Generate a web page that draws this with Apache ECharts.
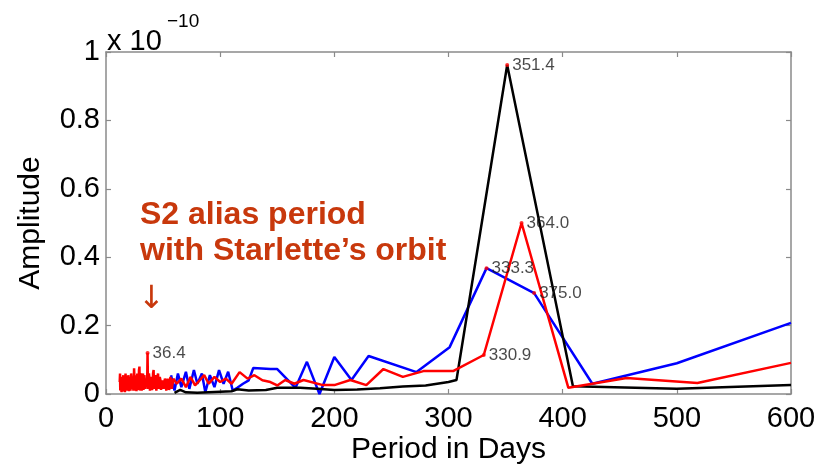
<!DOCTYPE html>
<html>
<head>
<meta charset="utf-8">
<script src="https://cdn.jsdelivr.net/npm/echarts@6/dist/echarts.min.js"></script>
<style>
  html, body { margin: 0; padding: 0; background: #fff; }
  #main { width: 835px; height: 465px; }
</style>
</head>
<body>
<div id="main"></div>
<script>
// DATA (amplitude in units of 1e-10, period in days)
var xTicks = [0, 100, 200, 300, 400, 500, 600];
var yTicks = [0, 0.2, 0.4, 0.6, 0.8, 1];

var blackData = [
  [60, 0.003], [65, 0.012], [70, 0.005], [80, 0.004], [95, 0.006], [110, 0.008],
  [115, 0.014], [125, 0.01], [140, 0.012], [150, 0.018], [170, 0.018], [185, 0.015],
  [200, 0.012], [220, 0.013], [240, 0.017], [260, 0.022], [280, 0.025], [300, 0.035],
  [307, 0.041], [351.4, 0.962], [409, 0.023], [500, 0.015], [600, 0.026]
];

var blueData = [
  [57, 0.055], [60, 0.01], [63, 0.06], [66, 0.02], [70, 0.065], [73, 0.015],
  [77, 0.07], [80, 0.03], [84, 0.06], [87, 0.005], [91, 0.055], [95, 0.02],
  [99, 0.07], [103, 0.03], [107, 0.065], [111, 0.01], [115, 0.018], [120, 0.03],
  [125, 0.04], [129, 0.076], [144, 0.073], [150, 0.073], [166, 0.018], [176, 0.094],
  [187, 0.0], [200, 0.108], [215, 0.041], [230, 0.111], [272, 0.064], [301, 0.137],
  [333.3, 0.368], [375, 0.295], [426, 0.03], [500, 0.09], [600, 0.208]
];

var redData = [
  [12.0, 0.035], [12.3, 0.06], [12.5, 0.01], [12.8, 0.04], [13.0, 0.045], [13.3, 0.02],
  [13.6, 0.005], [13.9, 0.05], [14.1, 0.04], [14.4, 0.008], [14.6, 0.015], [14.9, 0.045],
  [15.2, 0.055], [15.5, 0.02], [15.7, 0.01], [16.0, 0.05], [16.3, 0.035], [16.6, 0.005],
  [16.8, 0.02], [17.1, 0.06], [17.4, 0.045], [17.7, 0.01], [18.0, 0.005], [18.3, 0.04],
  [18.6, 0.03], [18.9, 0.01], [19.2, 0.015], [19.5, 0.055], [19.8, 0.04], [20.1, 0.008],
  [20.4, 0.01], [20.7, 0.05], [21.0, 0.035], [21.4, 0.01], [21.7, 0.02], [22.0, 0.06],
  [22.3, 0.05], [22.7, 0.015], [23.0, 0.01], [23.3, 0.05], [23.6, 0.045], [24.0, 0.01],
  [24.3, 0.02], [24.6, 0.075], [25.0, 0.07], [25.3, 0.01], [25.7, 0.015], [26.0, 0.055],
  [26.4, 0.04], [26.7, 0.008], [27.1, 0.01], [27.4, 0.06], [27.8, 0.05], [28.1, 0.012],
  [28.5, 0.025], [28.9, 0.07], [29.3, 0.08], [29.6, 0.01], [30.0, 0.02], [30.4, 0.06],
  [30.8, 0.045], [31.2, 0.01], [31.6, 0.015], [32.0, 0.05], [32.4, 0.06], [32.8, 0.012],
  [33.2, 0.02], [33.6, 0.055], [34.0, 0.04], [34.4, 0.015], [34.8, 0.01], [35.2, 0.045],
  [35.6, 0.05], [36.0, 0.02], [36.4, 0.12], [36.8, 0.015], [37.2, 0.02], [37.6, 0.06],
  [38.1, 0.045], [38.5, 0.01], [39.0, 0.015], [39.4, 0.05], [39.9, 0.055], [40.3, 0.012],
  [40.8, 0.02], [41.2, 0.06], [41.7, 0.07], [42.1, 0.015], [42.6, 0.025], [43.1, 0.055],
  [43.6, 0.05], [44.1, 0.01], [44.6, 0.015], [45.1, 0.05], [45.6, 0.06], [46.1, 0.015],
  [46.6, 0.02], [47.1, 0.05], [47.7, 0.04], [48.2, 0.012], [48.8, 0.01], [49.3, 0.04],
  [49.9, 0.045], [50.4, 0.015], [51.0, 0.02], [51.6, 0.045], [52.2, 0.035], [52.8, 0.01],
  [53.4, 0.015], [54.0, 0.045], [54.6, 0.04], [55.2, 0.012], [55.8, 0.02], [56.4, 0.05],
  [57.0, 0.045], [57.6, 0.015], [58.3, 0.01], [59.0, 0.045], [59.6, 0.04],
  [62, 0.03], [66, 0.045], [70, 0.02], [74, 0.05], [78, 0.025], [82, 0.04],
  [86, 0.055], [90, 0.03], [95, 0.05], [100, 0.035], [105, 0.045], [110, 0.03],
  [117, 0.064], [124, 0.045], [130, 0.055], [137, 0.04], [144, 0.035], [150, 0.025],
  [157, 0.041], [165, 0.03], [173, 0.041], [190, 0.026], [200, 0.026], [214, 0.041],
  [228, 0.026], [243, 0.073], [260, 0.05], [278, 0.067], [304, 0.067], [330.9, 0.114],
  [364, 0.5], [405, 0.018], [456, 0.047], [518, 0.032], [600, 0.091]
];

// data tips: [period, amplitude, text]
var tips = [
  [351.4, 0.962, '351.4'],
  [364.0, 0.5, '364.0'],
  [333.3, 0.368, '333.3'],
  [375.0, 0.295, '375.0'],
  [330.9, 0.114, '330.9'],
  [36.4, 0.12, '36.4']
];

var FONT = '"Liberation Sans", Arial, Helvetica, sans-serif';
var ANNOT = '#c8380c';

var chart = echarts.init(document.getElementById('main'));

var axisLine = { show: true, onZero: false, lineStyle: { color: '#8a8a8a', width: 1.5 } };
var tick = { show: true, inside: true, length: 5, lineStyle: { color: '#8a8a8a', width: 1.2 } };

var option = {
  animation: false,
  backgroundColor: '#fff',
  grid: { left: 106, right: 44, top: 52, bottom: 71, outerBoundsMode: 'none', containLabel: false },
  xAxis: [{
    type: 'value', min: 0, max: 600, interval: 100,
    axisLine: axisLine, axisTick: tick, splitLine: { show: false },
    axisLabel: { color: '#000', fontSize: 29, fontFamily: FONT, margin: 10 },
    name: 'Period in Days', nameLocation: 'middle', nameGap: 41, nameMoveOverlap: false,
    nameTextStyle: { color: '#000', fontSize: 30, fontFamily: FONT }
  }, {
    type: 'value', min: 0, max: 600, interval: 100, position: 'top',
    axisLine: axisLine, axisTick: tick, axisLabel: { show: false }, splitLine: { show: false }
  }],
  yAxis: [{
    type: 'value', min: 0, max: 1, interval: 0.2,
    axisLine: axisLine, axisTick: tick, splitLine: { show: false },
    axisLabel: { color: '#000', fontSize: 29, fontFamily: FONT, margin: 6 },
    name: 'Amplitude', nameLocation: 'middle', nameGap: 60, nameRotate: 90,
    nameTextStyle: { color: '#000', fontSize: 30, fontFamily: FONT }
  }, {
    type: 'value', min: 0, max: 1, interval: 0.2, position: 'right',
    axisLine: axisLine, axisTick: tick, axisLabel: { show: false }, splitLine: { show: false }
  }],
  series: [{
    type: 'line', data: blueData, showSymbol: false,
    lineStyle: { color: '#0000ff', width: 2.5 }
  }, {
    type: 'line', data: blackData, showSymbol: false,
    lineStyle: { color: '#000000', width: 2.5 }
  }, {
    type: 'line', data: redData, showSymbol: false,
    lineStyle: { color: '#ff0000', width: 2.5 }
  }, {
    type: 'scatter', symbolSize: 4, z: 5,
    itemStyle: { color: '#ff0000' },
    data: tips.map(function (t) { return { value: [t[0], t[1]], name: t[2] }; }),
    label: {
      show: true, position: 'right', distance: 3,
      formatter: function (p) { return p.name; },
      color: '#1a1a1a', fontSize: 17, fontFamily: FONT
    }
  }],
  graphic: [{
    type: 'text', left: 107, top: 27,
    style: { text: 'x 10', fontSize: 29, fontFamily: FONT, fill: '#000' }
  }, {
    type: 'text', left: 167, top: 12,
    style: { text: '\u221210', fontSize: 19, fontFamily: FONT, fill: '#000' }
  }, {
    type: 'text', left: 140, top: 197,
    style: {
      text: 'S2 alias period\nwith Starlette\u2019s orbit',
      fontSize: 32, fontWeight: 'bold', fontFamily: FONT, fill: ANNOT, lineHeight: 36
    }
  }, {
    type: 'text', left: 138, top: 284,
    style: { text: '\u2193', fontSize: 32, fontFamily: '"DejaVu Sans", sans-serif', fill: ANNOT }
  }]
};

chart.setOption(option);
</script>
</body>
</html>
